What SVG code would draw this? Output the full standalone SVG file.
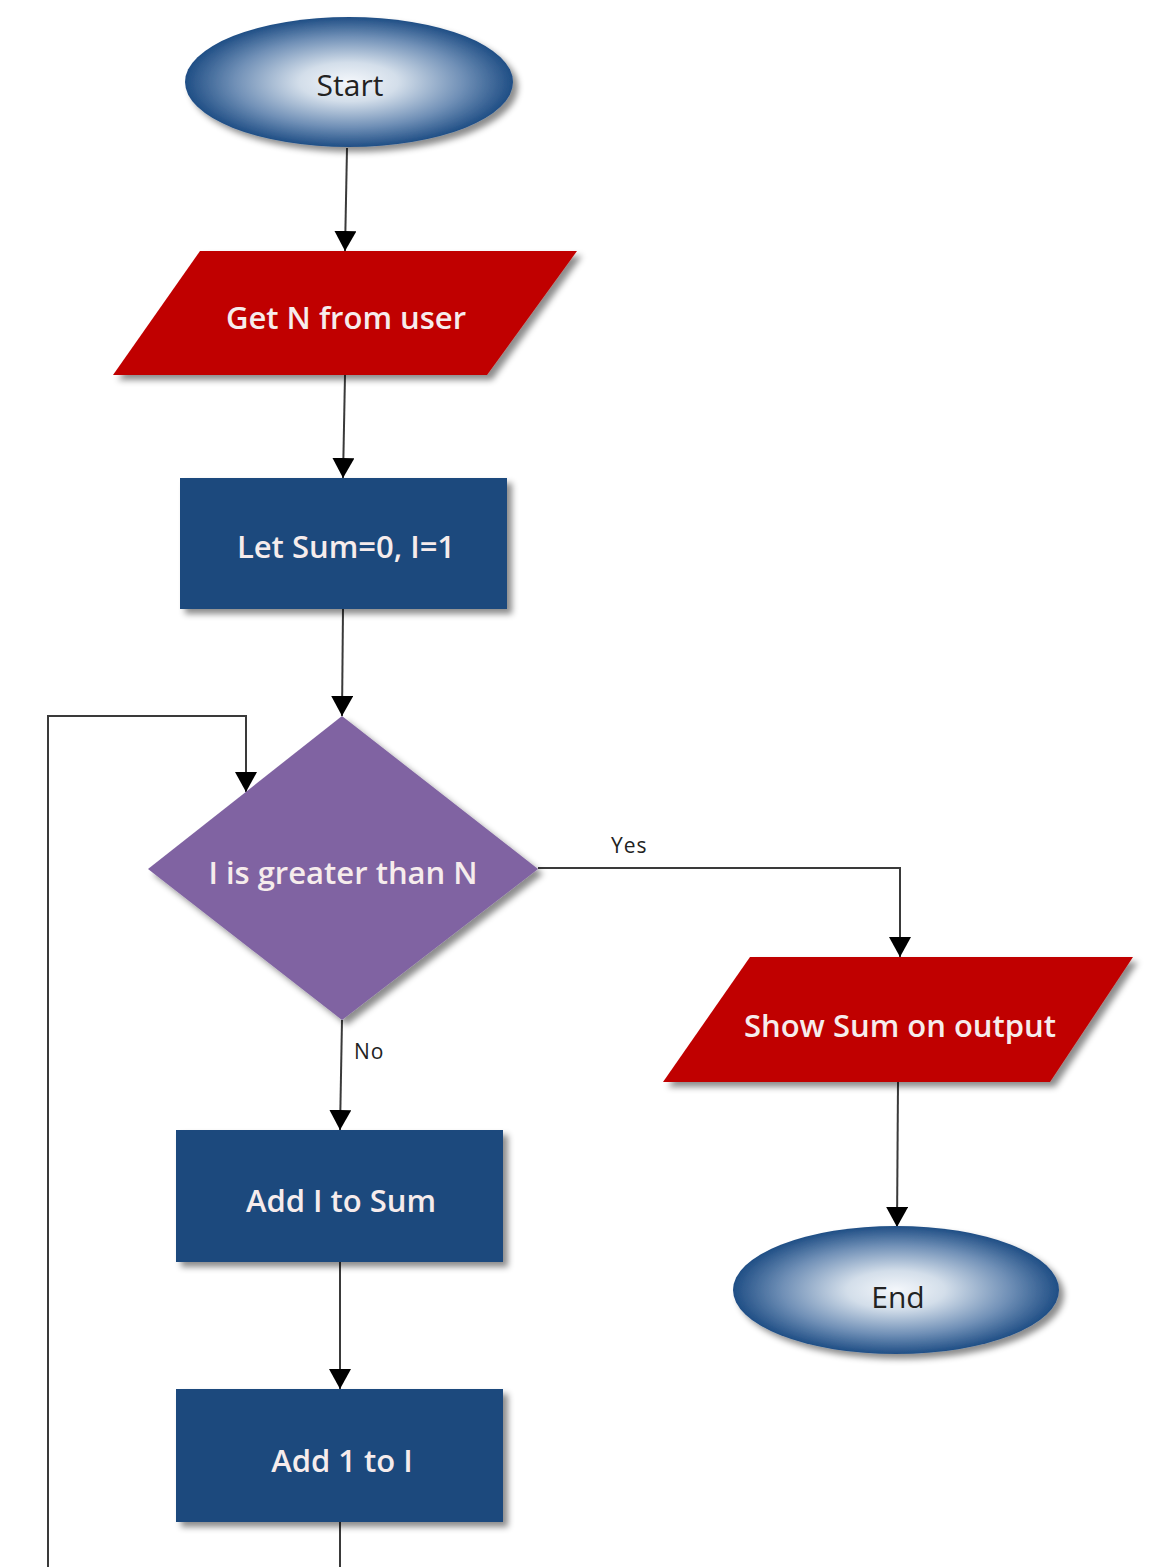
<svg xmlns="http://www.w3.org/2000/svg" width="1163" height="1567" viewBox="0 0 1163 1567">
<style>
.lbl{font-family:"Open Sans","Noto Sans","Liberation Sans",sans-serif;font-size:31px;font-weight:600;fill:#f6ecec;text-anchor:middle;dominant-baseline:central}
.term{font-family:"Open Sans","Noto Sans","Liberation Sans",sans-serif;font-size:30px;fill:#222;text-anchor:middle;dominant-baseline:central}
.edge{font-family:"Open Sans","Noto Sans","Liberation Sans",sans-serif;font-size:21px;fill:#222;letter-spacing:1px}
.conn{fill:none;stroke:#3a3a3a;stroke-width:2}
.red{fill:#c00000;filter:url(#sh)}
.blue{fill:#1f497d;filter:url(#sh)}
.purple{fill:#8064a2;filter:url(#sh)}
.oval{fill:url(#rg);filter:url(#sh)}
</style>
<defs>
<radialGradient id="rg" cx="50%" cy="50%" r="50%">
<stop offset="0" stop-color="#f4f7fb"/>
<stop offset="0.3" stop-color="#d3deea"/>
<stop offset="0.7" stop-color="#6f8fb6"/>
<stop offset="1" stop-color="#1f4e85"/>
</radialGradient>
<filter id="sh" x="-10%" y="-10%" width="125%" height="130%">
<feDropShadow dx="5" dy="5" stdDeviation="3" flood-color="#000" flood-opacity="0.45"/>
</filter>
<marker id="ah" viewBox="0 0 20 22" refX="20" refY="11" markerWidth="20" markerHeight="22" markerUnits="userSpaceOnUse" orient="auto">
<path d="M0,0 L20,11 L0,22 Z" fill="#000"/>
</marker>
</defs>
<g id="connectors">
<path class="conn" d="M347,148 L345,251" marker-end="url(#ah)"/>
<path class="conn" d="M345,375 L343,478" marker-end="url(#ah)"/>
<path class="conn" d="M343,609 L342,716" marker-end="url(#ah)"/>
<path class="conn" d="M538,868 L900,868 L900,957" marker-end="url(#ah)"/>
<path class="conn" d="M342,1020 L340,1130" marker-end="url(#ah)"/>
<path class="conn" d="M898,1082 L897,1227" marker-end="url(#ah)"/>
<path class="conn" d="M340,1262 L340,1389" marker-end="url(#ah)"/>
<path class="conn" d="M340,1522 L340,1567"/>
<path class="conn" d="M48,1567 L48,716 L246,716 L246,792" marker-end="url(#ah)"/>
<text class="edge" x="611" y="853">Yes</text>
<text class="edge" x="354" y="1059">No</text>
</g>
<g id="start">
<ellipse class="oval" cx="349" cy="82" rx="164" ry="65"/>
<text class="term" x="350" y="84">Start</text>
</g>
<g id="getN">
<polygon class="red" points="200,251 577,251 487,375 113,375"/>
<text class="lbl" x="346" y="317">Get N from user</text>
</g>
<g id="init">
<rect class="blue" x="180" y="478" width="327" height="131"/>
<text class="lbl" x="346" y="546">Let Sum=0, I=1</text>
</g>
<g id="decision">
<polygon class="purple" points="342,716 538,869 342,1020 148,869"/>
<text class="lbl" x="343" y="872">I is greater than N</text>
</g>
<g id="show">
<polygon class="red" points="750,957 1133,957 1050,1082 663,1082"/>
<text class="lbl" x="900" y="1025">Show Sum on output</text>
</g>
<g id="end">
<ellipse class="oval" cx="896" cy="1290" rx="163" ry="64"/>
<text class="term" x="898" y="1296">End</text>
</g>
<g id="addI">
<rect class="blue" x="176" y="1130" width="327" height="132"/>
<text class="lbl" x="341" y="1200">Add I to Sum</text>
</g>
<g id="inc">
<rect class="blue" x="176" y="1389" width="327" height="133"/>
<text class="lbl" x="342" y="1460">Add 1 to I</text>
</g>
</svg>
